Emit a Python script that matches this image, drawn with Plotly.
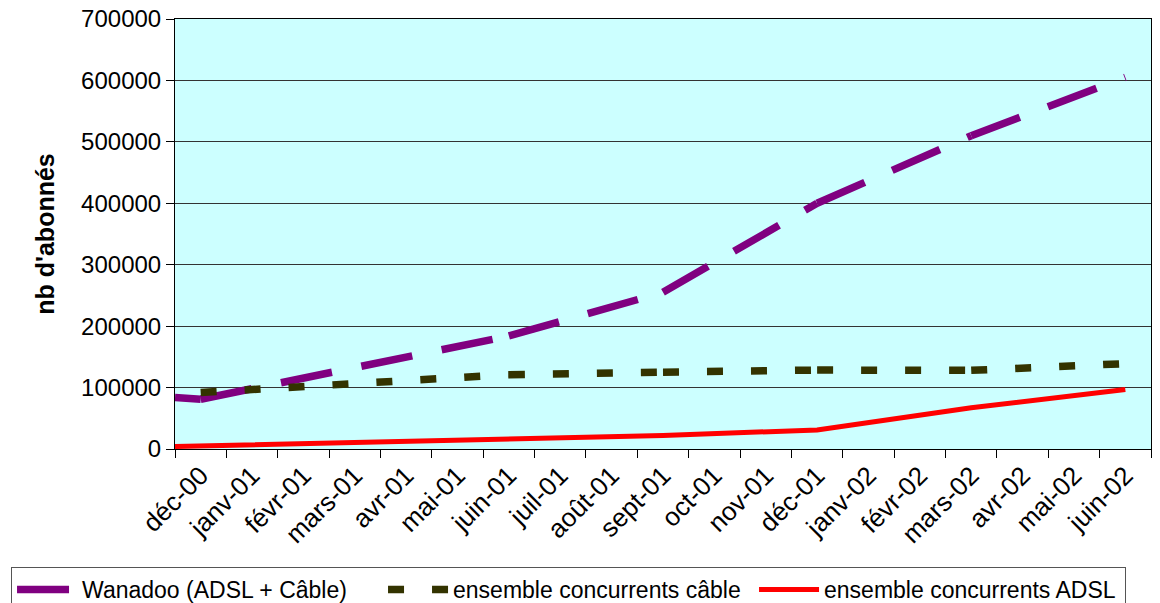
import plotly.graph_objects as go

# ---- data ----
months = ["déc-00", "janv-01", "févr-01", "mars-01", "avr-01", "mai-01",
          "juin-01", "juil-01", "août-01", "sept-01", "oct-01", "nov-01",
          "déc-01", "janv-02", "févr-02", "mars-02", "avr-02", "mai-02", "juin-02"]

# positions are month indices (déc-00 = 0); -0.5 = start of the axis
wanadoo_pos = [-0.5, 0, 6, 9, 12, 15, 18]
wanadoo = [84000, 81000, 184000, 255000, 400000, 510000, 605000]

cable_pos = [0, 6, 9, 12, 15, 18]
cable = [92000, 121000, 125000, 128500, 128000, 139000]

adsl_pos = [-0.5, 0, 6, 9, 12, 15, 18]
adsl = [4000, 5000, 17000, 22000, 31000, 67000, 97000]

names = ["Wanadoo (ADSL + Câble)", "ensemble concurrents câble", "ensemble concurrents ADSL"]

FONT = "Arial, Liberation Sans, sans-serif"

fig = go.Figure()


def add_segmented(xs, ys, name, color, width, dash):
    # Excel restarts the dash pattern at every data point: one trace per segment
    for i in range(len(xs) - 1):
        fig.add_trace(go.Scatter(
            x=xs[i:i + 2], y=ys[i:i + 2], mode="lines", name=name,
            showlegend=(i == 0), hoverinfo="skip",
            line=dict(color=color, width=width, dash=dash)))


add_segmented(wanadoo_pos, wanadoo, names[0], "#800080", 7.5, "52px,30px")
add_segmented(cable_pos, cable, names[1], "#333300", 7.5, "16px,28px")
fig.add_trace(go.Scatter(x=adsl_pos, y=adsl, mode="lines", name=names[2],
                         hoverinfo="skip",
                         line=dict(color="#FF0000", width=5)))

boundaries = [i - 0.5 for i in range(len(months) + 1)]

fig.update_layout(
    width=1160, height=603,
    margin=dict(l=175, r=9, t=19, b=154, autoexpand=False),
    paper_bgcolor="white", plot_bgcolor="#CCFFFF",
    font=dict(family=FONT, color="black", size=23),
    showlegend=True,
    legend=dict(orientation="h", x=-0.168, xanchor="left", y=-0.2744, yanchor="top",
                bordercolor="#555555", borderwidth=1, bgcolor="white",
                font=dict(family=FONT, size=23), itemwidth=60, entrywidth=296,
                traceorder="normal"),
    xaxis=dict(range=[-0.5, len(months) - 0.5], tickmode="array",
               tickvals=list(range(len(months))), ticktext=months,
               tickangle=-45, ticks="", showgrid=False, zeroline=False,
               showline=True, linecolor="black", linewidth=1, mirror=True,
               tickfont=dict(family=FONT, size=26),
               minor=dict(tickmode="array", tickvals=boundaries, ticks="outside",
                          ticklen=8, tickwidth=1, tickcolor="black", showgrid=False)),
    yaxis=dict(range=[0, 700000], tickmode="linear", tick0=0, dtick=100000,
               tickformat="d", ticks="outside", ticklen=8, tickcolor="black",
               showline=True, linecolor="black", linewidth=1, mirror=True,
               showgrid=True, gridcolor="#333333", gridwidth=1, zeroline=False,
               tickfont=dict(family=FONT, size=24),
               title=dict(text="<b>nb d'abonnés</b>", standoff=19,
                          font=dict(family=FONT, size=25))),
)

fig.write_html("out.html")
